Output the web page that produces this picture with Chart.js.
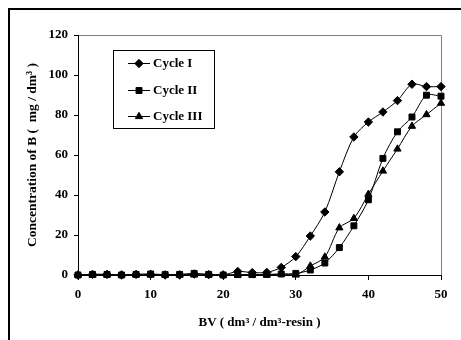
<!DOCTYPE html>
<html>
<head>
<meta charset="utf-8">
<script src="https://cdn.jsdelivr.net/npm/chart.js@4/dist/chart.umd.min.js"></script>
<style>
html,body{margin:0;padding:0;background:#fff;}
#wrap{width:461px;height:340px;position:relative;}
</style>
</head>
<body>
<div id="wrap"><canvas id="c" width="461" height="340"></canvas></div>
<script>
const bv = [0,2,4,6,8,10,12,14,16,18,20,22,24,26,28,30,32,34,36,38,40,42,44,46,48,50];
const cycle1 = [0,0.3,0.3,0,0.3,0.3,0,0,0.5,0.2,0,1.8,1.2,1.3,3.8,9.2,19.5,31.5,51.6,69,76.5,81.5,87.2,95.4,94.2,94.2];
const cycle2 = [0,0.3,0.3,0,0.3,0.5,0.2,0.3,0.8,0.3,0,0.2,0.2,0.3,0.5,0.8,2.5,6,13.7,24.6,37.6,58.3,71.6,79,89.9,89.4];
const cycle3 = [0,0,0,0,0,0,0,0,0,0,0,0,0,0,0.5,0,4.5,9,23.6,28.3,40.4,52,63,74.4,80.2,85.9];
const seriesNames = ['Cycle I','Cycle II','Cycle III'];
const markerStyles = ['rectRot','rect','triangle'];
const xTitle = 'BV ( dm\u00B3 / dm\u00B3-resin )';
const yTitle = 'Concentration of B (  mg / dm\u00B3 )';

const FONT = 'Liberation Serif, Times New Roman, serif';

const toPts = arr => arr.map((v,i)=>({x:bv[i], y:v}));
const radii = [4.2,4.2,4.2];

const frame = {
  id:'frame',
  beforeDraw(chart){
    const ctx = chart.ctx;
    ctx.save();
    ctx.strokeStyle = '#000';
    ctx.lineWidth = 2;
    ctx.beginPath();
    ctx.moveTo(9, 340);
    ctx.lineTo(9, 9);
    ctx.lineTo(461, 9);
    ctx.stroke();
    const a = chart.chartArea;
    ctx.strokeStyle = '#808080';
    ctx.lineWidth = 1;
    ctx.beginPath();
    ctx.moveTo(a.left, a.top + 0.5);
    ctx.lineTo(a.right + 0.5, a.top + 0.5);
    ctx.lineTo(a.right + 0.5, a.bottom);
    ctx.stroke();
    ctx.restore();
  }
};

const boxLegend = {
  id:'boxLegend',
  afterDraw(chart){
    const ctx = chart.ctx;
    ctx.save();
    ctx.fillStyle = '#fff';
    ctx.fillRect(113.5, 50.5, 101, 78);
    ctx.strokeStyle = '#000';
    ctx.lineWidth = 1;
    ctx.strokeRect(113.5, 50.5, 101, 78);
    const rows = [63, 90, 116];
    chart.data.datasets.forEach((ds, i) => {
      const y = rows[i];
      ctx.strokeStyle = '#000';
      ctx.fillStyle = '#000';
      ctx.lineWidth = 1;
      ctx.beginPath();
      ctx.moveTo(128, y + 0.5);
      ctx.lineTo(150, y + 0.5);
      ctx.stroke();
      Chart.helpers.drawPoint(ctx, {pointStyle: ds.pointStyle, radius: ds.pointRadius, borderWidth: 1}, 139, y + 0.5);
      ctx.font = 'bold 13px ' + FONT;
      ctx.textBaseline = 'middle';
      ctx.textAlign = 'left';
      ctx.fillText(ds.label, 153, y + 1);
    });
    ctx.restore();
  }
};

new Chart(document.getElementById('c'), {
  type: 'line',
  data: {
    datasets: [cycle1, cycle2, cycle3].map((arr, i) => ({
      label: seriesNames[i],
      data: toPts(arr),
      borderColor: '#000',
      backgroundColor: '#000',
      borderWidth: 1,
      pointStyle: markerStyles[i],
      pointRadius: radii[i],
      pointBackgroundColor: '#000',
      pointBorderColor: '#000',
      pointBorderWidth: 1,
      tension: 0.3,
      clip: false
    }))
  },
  options: {
    responsive: false,
    animation: false,
    events: [],
    layout: { padding: { left: 0, right: 20, top: 35, bottom: 0 } },
    plugins: { legend: { display: false }, tooltip: { enabled: false } },
    scales: {
      x: {
        type: 'linear', min: 0, max: 50,
        ticks: { stepSize: 10, color: '#000', font: { family: FONT, size: 13, weight: 'bold' }, padding: 7, maxRotation: 0 },
        grid: { drawOnChartArea: false, tickLength: 5, color: '#000' },
        border: { color: '#000', width: 1 },
        title: { display: true, text: xTitle, color: '#000', font: { family: FONT, size: 13, weight: 'bold' }, padding: { top: 4, bottom: 10 } },
        afterFit(s){ s.height = 65; }
      },
      y: {
        min: 0, max: 120,
        ticks: { stepSize: 20, color: '#000', font: { family: FONT, size: 13, weight: 'bold' }, padding: 6 },
        grid: { drawOnChartArea: false, tickLength: 4, color: '#000' },
        border: { color: '#000', width: 1 },
        title: { display: true, text: yTitle, color: '#000', font: { family: FONT, size: 13.5, weight: 'bold' }, padding: { top: 24, bottom: 4 } },
        afterFit(s){ s.width = 78; }
      }
    }
  },
  plugins: [frame, boxLegend]
});
</script>
</body>
</html>
